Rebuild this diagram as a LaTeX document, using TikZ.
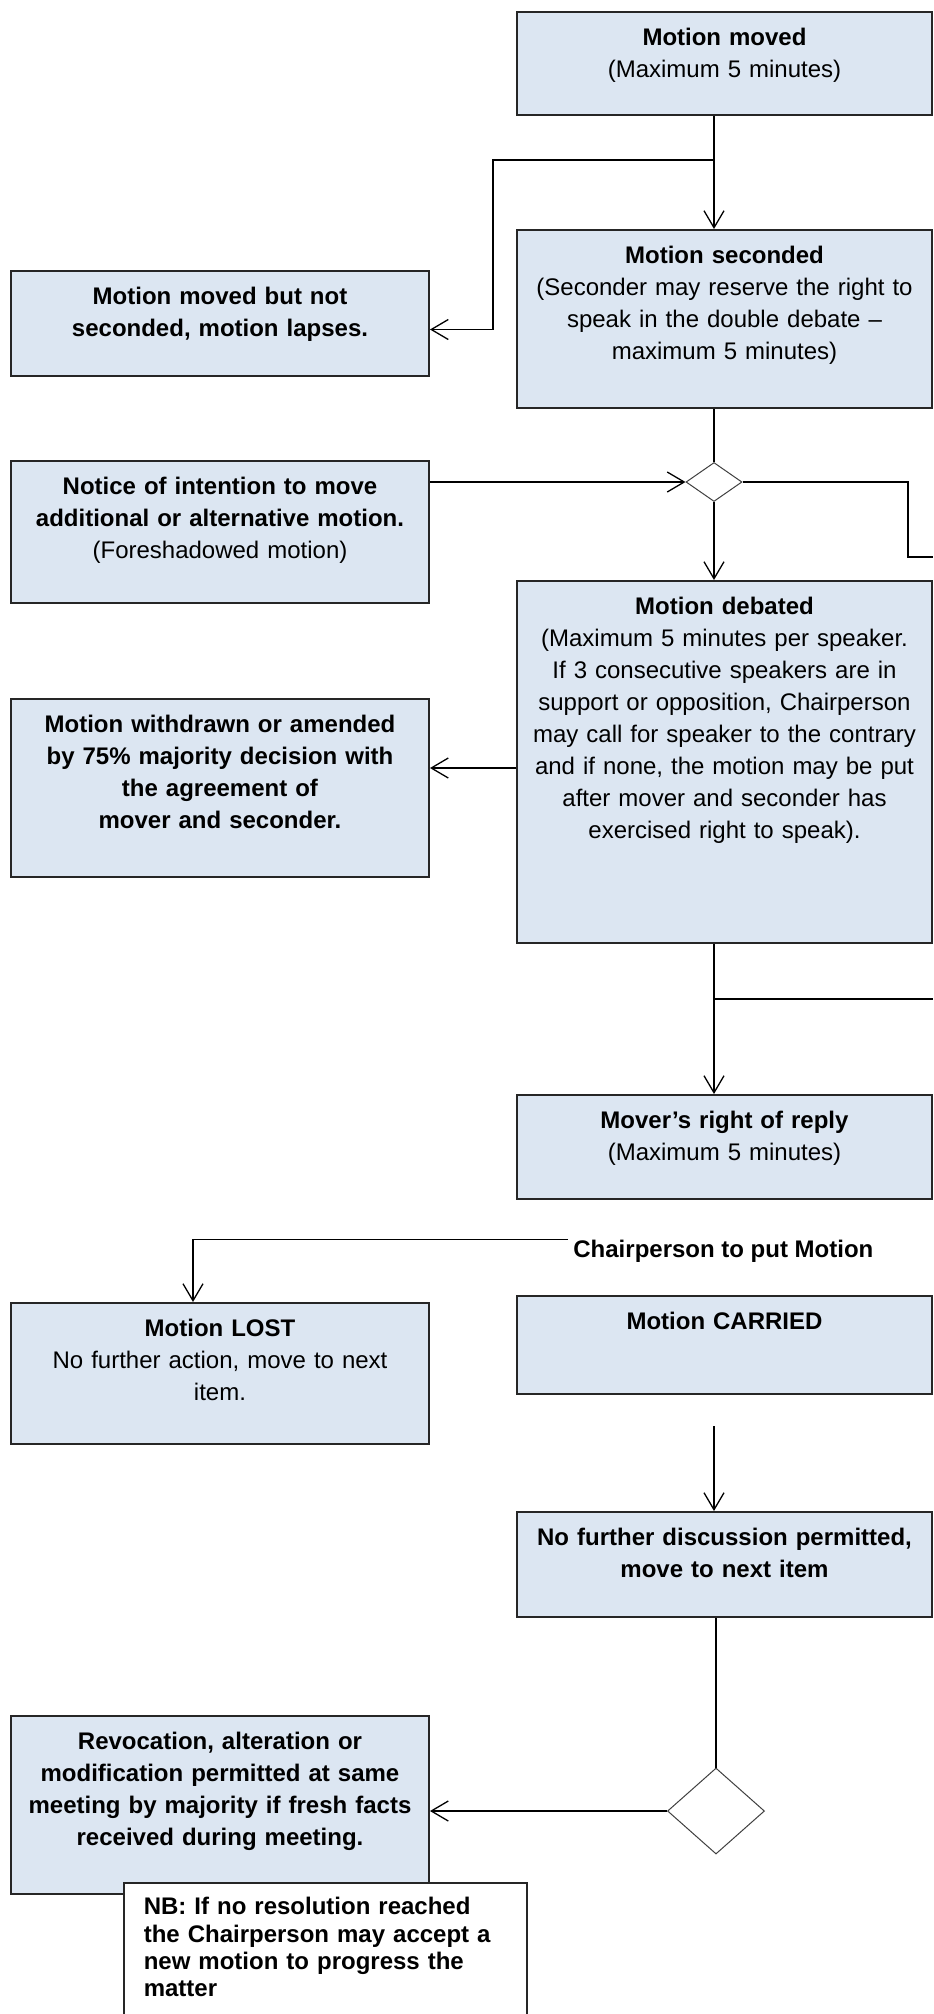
\documentclass[tikz,border=0pt]{standalone}
\usepackage{fontspec}
\setmainfont{Liberation Sans}
\usetikzlibrary{arrows.meta,positioning,shapes.geometric}
\definecolor{boxBlue}{HTML}{DCE6F2}

\begin{document}
\begin{tikzpicture}[x=0.5pt,y=-0.5pt,
    flowbox/.style={draw=black!85, line width=1pt, fill=boxBlue, anchor=north west,
      inner xsep=4pt, inner ysep=0pt, align=center, text height=16.5pt,
      font=\fontsize{12pt}{16pt}\selectfont},
    rightbox/.style={flowbox, text width=199.5pt},
    leftbox/.style={flowbox, text width=201pt},
    notebox/.style={draw=black!85, line width=0.8pt, fill=white, anchor=north west,
      inner xsep=10pt, inner ysep=0pt, align=left, text width=181.5pt, text height=16pt,
      font=\fontsize{12pt}{13.6pt}\selectfont\bfseries},
    decision/.style={diamond, draw=black!75, fill=white, line width=0.5pt, inner sep=0pt},
    link/.style={line width=0.65pt},
    linkarrow/.style={link, -{Straight Barb[length=8.5pt,width=10pt]}}]
      \useasboundingbox (0,0) rectangle (933,2014);

      % right column
      \node[rightbox, text depth=35pt] (moved) at (516,11)
        {\textbf{Motion moved}\\(Maximum 5 minutes)};
      \node[rightbox, text depth=72.5pt] (seconded) at (516,229)
        {\textbf{Motion seconded}\\(Seconder may reserve the right to\\speak in the double debate --\\maximum 5 minutes)};
      \node[rightbox, text depth=164.5pt] (debated) at (516,580)
        {\textbf{Motion debated}\\(Maximum 5 minutes per speaker.\\If 3 consecutive speakers are in\\support or opposition, Chairperson\\may call for speaker to the contrary\\and if none, the motion may be put\\after mover and seconder has\\exercised right to speak).};
      \node[rightbox, text depth=35.5pt] (mover) at (516,1094)
        {\textbf{Mover’s right of reply}\\(Maximum 5 minutes)};
      \node[anchor=base west, inner xsep=2.5pt, inner ysep=0pt, font=\fontsize{12pt}{16pt}\selectfont\bfseries]
        (chair) at (568,1257) {Chairperson to put Motion};
      \node[rightbox, text depth=32.5pt] (carried) at (516,1295)
        {\textbf{Motion CARRIED}};
      \node[rightbox, text depth=36pt] (nofurther) at (516,1511)
        {\textbf{No further discussion permitted,}\\\textbf{move to next item}};

      % left column
      \node[leftbox, text depth=36pt] (notsec) at (10,270)
        {\textbf{Motion moved but not}\\\textbf{seconded, motion lapses.}};
      \node[leftbox, text depth=54.5pt] (notice) at (10,460)
        {\textbf{Notice of intention to move}\\\textbf{additional or alternative motion.}\\(Foreshadowed motion)};
      \node[leftbox, text depth=72.5pt] (withdrawn) at (10,698)
        {\textbf{Motion withdrawn or amended}\\\textbf{by 75\% majority decision with}\\\textbf{the agreement of}\\\textbf{mover and seconder.}};
      \node[leftbox, text depth=54pt] (lost) at (10,1302)
        {\textbf{Motion LOST}\\No further action, move to next\\item.};
      \node[leftbox, text depth=72.5pt] (revoc) at (10,1715)
        {\textbf{Revocation, alteration or}\\\textbf{modification permitted at same}\\\textbf{meeting by majority if fresh facts}\\\textbf{received during meeting.}};
      \node[notebox, text depth=63pt] (nb) at (123,1882)
        {NB: If no resolution reached\\the Chairperson may accept a\\new motion to progress the\\matter};

      \node[decision, minimum width=28pt, minimum height=19.5pt] (d1) at (714,482) {};
      \node[decision, minimum width=48.5pt, minimum height=43pt] (d2) at (716,1811) {};

      \coordinate (spine) at (714,0);
      \coordinate (split1) at (714,160);
      \coordinate (split2) at (714,999);
      \coordinate (exit1) at (933,557);
      \coordinate (exit2) at (933,999);
      \coordinate (carriedout) at (714,1426);
      \coordinate (dw) at ([yshift=-3pt]debated.west);

      \draw[linkarrow] (moved.south -| spine) -- (seconded.north -| spine);
      \draw[linkarrow] (split1) -| ([xshift=31.5pt,yshift=-3pt]notsec.east) -- ([yshift=-3pt]notsec.east);
      \draw[link] (seconded.south -| d1) -- (d1.north);
      \draw[linkarrow] (notice.east |- d1.west) -- (d1.west);
      \draw[link] (d1.east) -| ([xshift=-12.5pt]exit1) -- (exit1);
      \draw[linkarrow] (d1.south) -- (debated.north -| d1);
      \draw[linkarrow] (dw) -- (dw -| withdrawn.east);
      \draw[linkarrow] (debated.south -| spine) -- (mover.north -| spine);
      \draw[link] (split2) -- (exit2);
      \draw[linkarrow] (chair.north west) -| ([xshift=91.5pt]lost.north west);
      \draw[linkarrow] (carriedout) -- (nofurther.north -| carriedout);
      \draw[link] (nofurther.south -| d2) -- (d2.north);
      \draw[linkarrow] (d2.west) -- (revoc.east |- d2.west);
\end{tikzpicture}
\end{document}
